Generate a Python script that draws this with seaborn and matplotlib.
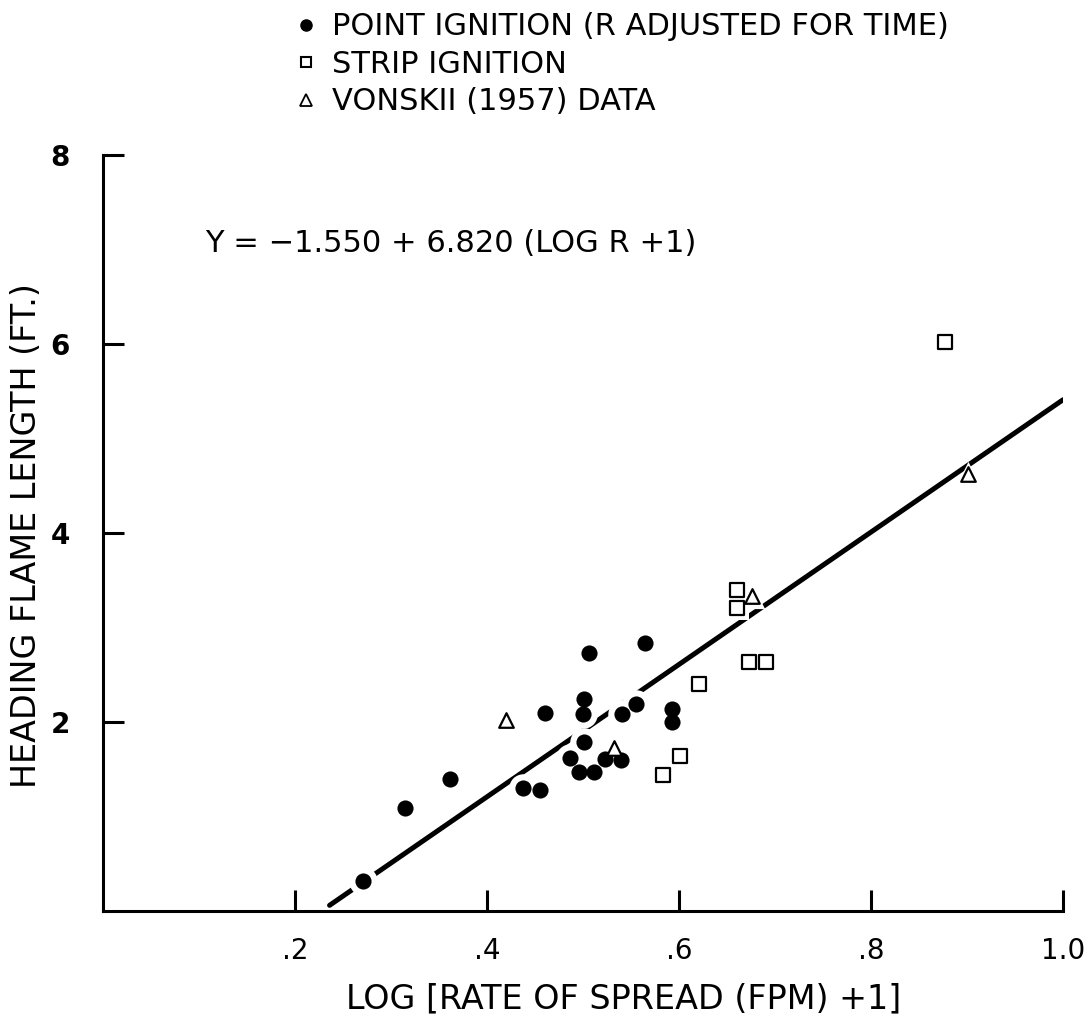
import matplotlib
matplotlib.use("Agg")
import matplotlib.pyplot as plt
from matplotlib.lines import Line2D
import seaborn as sns
import pandas as pd

# ---- data ----
point_x = [0.271, 0.315, 0.361, 0.438, 0.455, 0.460, 0.506, 0.501, 0.500, 0.501,
           0.486, 0.496, 0.511, 0.523, 0.540, 0.541, 0.555, 0.565, 0.593, 0.593]
point_y = [0.32, 1.09, 1.40, 1.30, 1.28, 2.10, 2.73, 2.24, 2.08, 1.79,
           1.62, 1.47, 1.47, 1.61, 1.60, 2.08, 2.19, 2.84, 2.14, 2.00]
strip_x = [0.877, 0.660, 0.660, 0.673, 0.691, 0.621, 0.601, 0.583]
strip_y = [6.02, 3.40, 3.21, 2.63, 2.63, 2.40, 1.64, 1.44]
vonskii_x = [0.420, 0.532, 0.676, 0.901]
vonskii_y = [2.02, 1.72, 3.33, 4.62]
line_x = [0.236, 1.0]
line_y = [0.06, 5.41]

x_ticks = [0.2, 0.4, 0.6, 0.8, 1.0]
x_tick_labels = [".2", ".4", ".6", ".8", "1.0"]
y_ticks = [2, 4, 6, 8]
y_tick_labels = ["2", "4", "6", "8"]

legend_labels = ["POINT IGNITION (R ADJUSTED FOR TIME)", "STRIP IGNITION", "VONSKII (1957) DATA"]
equation = "Y = \u22121.550 + 6.820 (LOG R +1)"
x_label = "LOG [RATE OF SPREAD (FPM) +1]"
y_label = "HEADING FLAME LENGTH (FT.)"

sns.set_style("white")
plt.rcParams["font.family"] = ["DejaVu Sans"]
plt.rcParams["text.color"] = "black"
plt.rcParams["axes.labelcolor"] = "black"
plt.rcParams["xtick.color"] = "black"
plt.rcParams["ytick.color"] = "black"

fig = plt.figure(figsize=(10.87, 10.27), dpi=100)
ax = fig.add_axes([103 / 1087, (1027 - 911) / 1027, 960 / 1087, 756 / 1027])

df_point = pd.DataFrame({"x": point_x, "y": point_y})
df_strip = pd.DataFrame({"x": strip_x, "y": strip_y})
df_von = pd.DataFrame({"x": vonskii_x, "y": vonskii_y})
df_line = pd.DataFrame({"x": line_x, "y": line_y})

# regression line
sns.lineplot(data=df_line, x="x", y="y", ax=ax, color="black", linewidth=3.6,
             solid_capstyle="round", zorder=1)

# white halos to break the line around markers
for d, m, s in [(df_point, "o", 420), (df_strip, "s", 300), (df_von, "^", 330)]:
    sns.scatterplot(data=d, x="x", y="y", ax=ax, marker=m, s=s, color="white",
                    edgecolor="white", linewidth=0, zorder=2, clip_on=False)

sns.scatterplot(data=df_point, x="x", y="y", ax=ax, marker="o", s=135, color="black",
                edgecolor="black", linewidth=0, zorder=3, clip_on=False)
sns.scatterplot(data=df_strip, x="x", y="y", ax=ax, marker="s", s=95, facecolor="white",
                edgecolor="black", linewidth=1.6, zorder=3, clip_on=False)
sns.scatterplot(data=df_von, x="x", y="y", ax=ax, marker="^", s=110, facecolor="white",
                edgecolor="black", linewidth=1.6, zorder=3, clip_on=False)

ax.set_xlim(0, 1.0)
ax.set_ylim(0, 8)
ax.set_xticks(x_ticks)
ax.set_xticklabels(x_tick_labels, fontsize=20)
ax.set_yticks(y_ticks)
ax.set_yticklabels(y_tick_labels, fontsize=20, fontweight="bold")
ax.tick_params(axis="both", direction="in", length=15, width=2.2, color="black",
               bottom=True, left=True)
ax.tick_params(axis="x", pad=19)
ax.tick_params(axis="y", pad=24)

for side in ["top", "right"]:
    ax.spines[side].set_visible(False)
for side in ["left", "bottom"]:
    ax.spines[side].set_linewidth(2.2)
    ax.spines[side].set_color("black")

ax.set_xlabel(x_label, fontsize=24)
ax.set_ylabel(y_label, fontsize=24)
ax.xaxis.set_label_coords(0.542, -0.095)
ax.yaxis.set_label_coords(-0.062, 0.497)

ax.text(0.106, 7.06, equation, fontsize=22, ha="left", va="center")

handles = [
    Line2D([], [], linestyle="none", marker="o", markersize=8, color="black"),
    Line2D([], [], linestyle="none", marker="s", markersize=7, markerfacecolor="white",
           markeredgecolor="black", markeredgewidth=1.5),
    Line2D([], [], linestyle="none", marker="^", markersize=8, markerfacecolor="white",
           markeredgecolor="black", markeredgewidth=1.3),
]
fig.legend(handles, legend_labels, loc="upper left", bbox_to_anchor=(295 / 1087, 0.988),
           frameon=False, fontsize=22, handlelength=0.75, handletextpad=0.47,
           labelspacing=0.28, borderpad=0, borderaxespad=0)

fig.savefig("out.png", dpi=100, facecolor="white")
